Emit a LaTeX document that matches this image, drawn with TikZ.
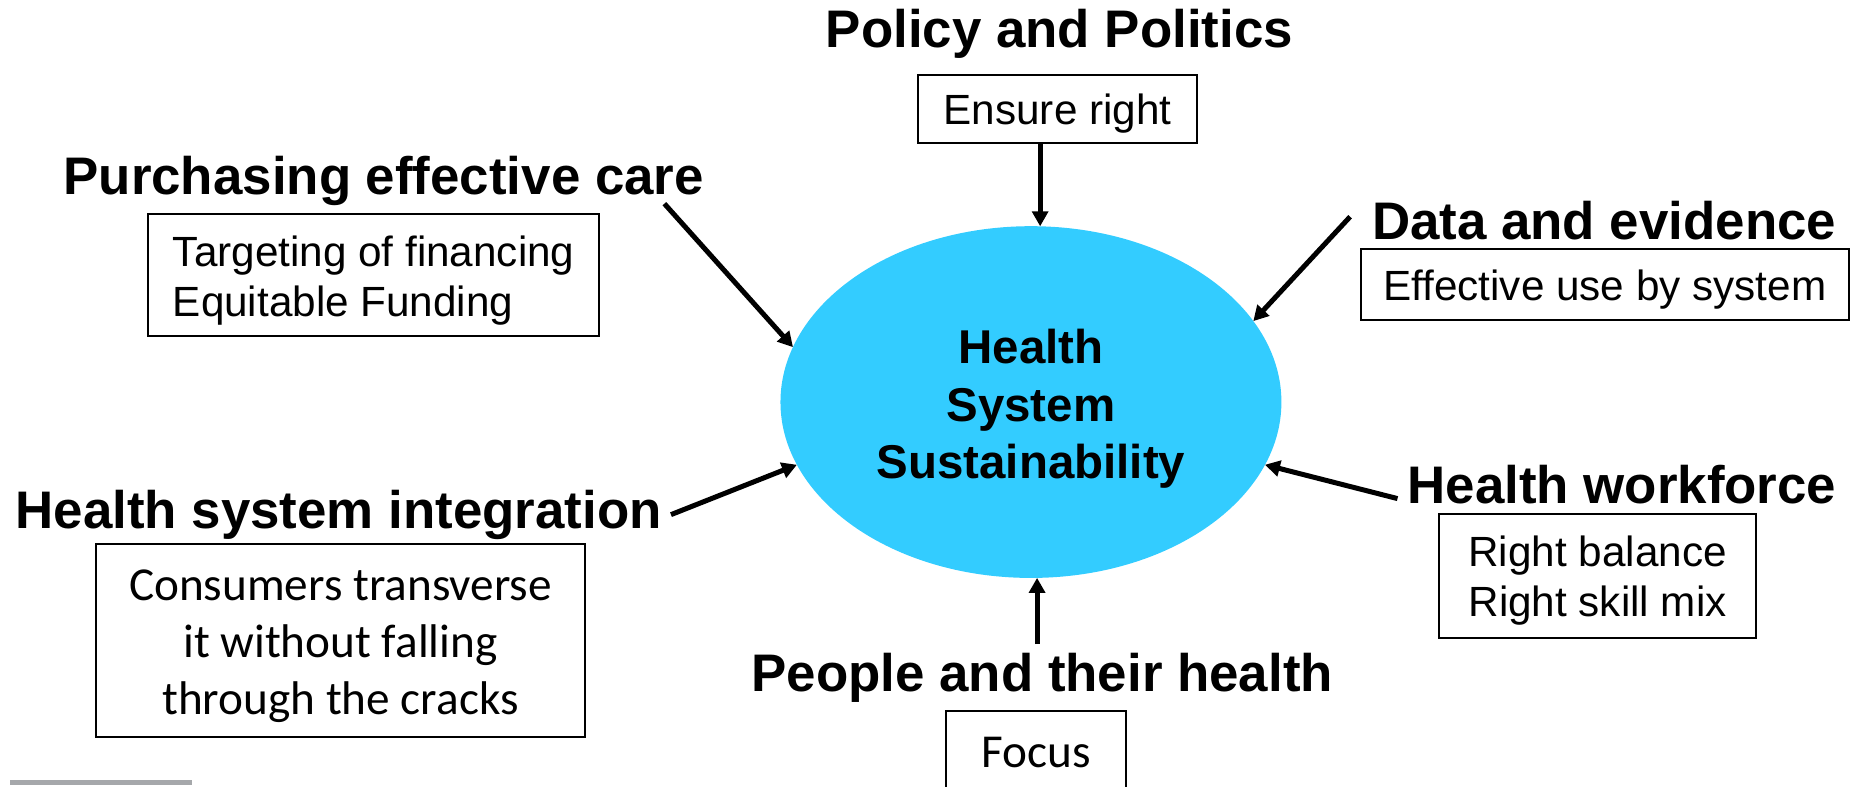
\documentclass[tikz,border=0pt]{standalone}
\usepackage{fontspec}
\setmainfont{Liberation Sans}
\newfontfamily\calibri{Carlito}
\usetikzlibrary{arrows.meta,positioning,shapes.geometric}
\definecolor{skyfill}{HTML}{33CCFF}
\definecolor{barmark}{HTML}{A6A8AB}
\newcommand\liftline[1]{\rule{0pt}{#1}}

\begin{document}
\begin{tikzpicture}[
x=0.1mm, y=-0.1mm,
title/.style  = {font=\fontsize{12.7}{15}\selectfont\bfseries, anchor=base, inner sep=2pt},
infobox/.style = {draw, line width=0.5pt, inner sep=0pt, align=center,
                  font=\fontsize{10.15}{12}\selectfont},
arr/.style    = {-{Triangle[length=3.6pt,width=3.8pt]}, line width=1.2pt}
                        ]
\useasboundingbox (0,0) rectangle (1568,664);

% centre
\node (hss) [ellipse, fill=skyfill, minimum width=42.3mm, minimum height=29.7mm,
             inner sep=0pt, outer sep=0pt, align=center,
             font=\fontsize{11.4}{13.8}\selectfont\bfseries]
      at (870.5,339.5) {\liftline{11.5pt}Health\\ System\\ Sustainability};

% titles
\node (policy) [title] at (894.5,40)  {Policy and Politics};
\node (purch)  [title] at (324,164)   {Purchasing effective care};
\node (data)   [title] at (1354.5,202) {Data and evidence};
\node (integ)  [title] at (286,446)   {Health system integration};
\node (workf)  [title] at (1369.5,425) {Health workforce};
\node (people) [title] at (880,584)   {People and their health};

% boxes
\node (ensure) [infobox, minimum width=23.6mm, minimum height=5.8mm] at (893,92)
      {\liftline{9.7pt}Ensure right};
\node (target) [infobox, minimum width=38.1mm, minimum height=10.3mm, align=left] at (315.5,232.5)
      {\liftline{9.7pt}Targeting of financing\\ Equitable Funding};
\node (effuse) [infobox, minimum width=41.2mm, minimum height=6mm] at (1355,240)
      {\liftline{9.7pt}Effective use by system};
\node (skill)  [infobox, minimum width=26.8mm, minimum height=10.5mm] at (1349,486.5)
      {\liftline{9.7pt}Right balance\\ Right skill mix};
\node (consum) [infobox, minimum width=41.3mm, minimum height=16.3mm,
                font=\calibri\fontsize{11.35}{13.65}\selectfont] at (287.5,540.5)
      {\liftline{10.2pt}Consumers transverse\\ it without falling\\ through the cracks};
\node (focus)  [infobox, minimum width=15.2mm, minimum height=7mm,
                font=\calibri\fontsize{11.35}{13.1}\selectfont] at (875,635) {Focus};

%
\coordinate (pa) at (561,172);
\coordinate (da) at (1140,183);
\coordinate (wa) at (1180,421);

\draw[arr] (ensure.south -| hss.87) -- (hss.87);
\draw[arr] (pa) -- (hss.167.8);
\draw[arr] (da) -- (hss.20.8);
\draw[arr] (integ.east) -- (hss.195.3);
\draw[arr] (wa) -- (hss.345.7);
\draw[arr] (people.north -| hss.272) -- (hss.272);

\fill[barmark] (8.5,658.6) rectangle (162,663);
\end{tikzpicture}
\end{document}
